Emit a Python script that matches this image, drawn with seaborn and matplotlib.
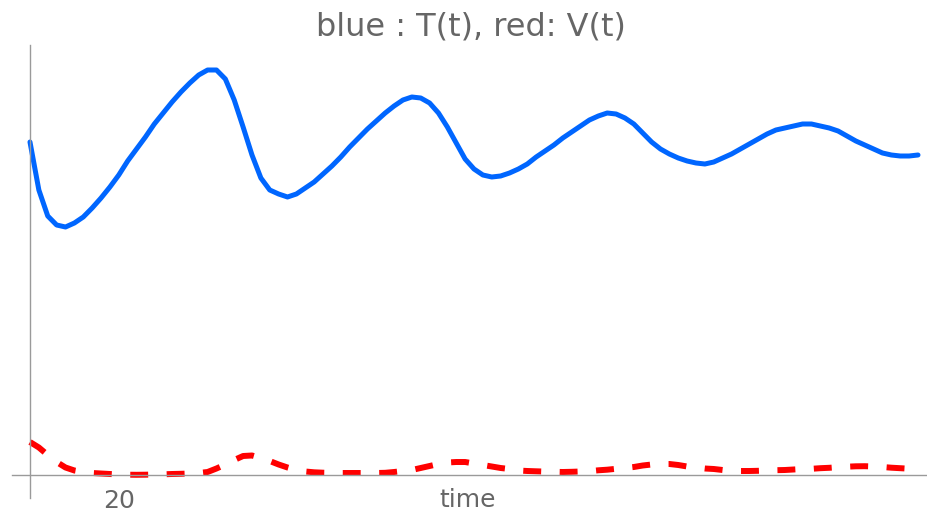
import numpy as np
import pandas as pd
import seaborn as sns
import matplotlib.pyplot as plt

# time grid (every 2 units) and values
time = list(range(0, 201, 2))

T_vals = [333, 285, 259, 250, 248, 252, 258, 267, 277, 288,
          300, 314, 326, 338, 351, 362, 373, 383, 392, 400,
          405, 405, 396, 375, 348, 320, 297, 285, 281, 278,
          281, 287, 293, 301, 309, 318, 328, 337, 346, 354,
          362, 369, 375, 378, 377, 372, 362, 348, 332, 316,
          306, 300, 298, 299, 302, 306, 311, 318, 324, 330,
          337, 343, 349, 355, 359, 362, 361, 357, 351, 342,
          333, 326, 321, 317, 314, 312, 311, 313, 317, 321,
          326, 331, 336, 341, 345, 347, 349, 351, 351, 349,
          347, 344, 339, 334, 330, 326, 322, 320, 319, 319,
          320]

V_vals = [33, 27.5, 20, 13, 7.5, 4.5, 3, 2, 1.5, 1,
          0.5, 0.3, 0.2, 0.3, 0.5, 0.7, 1, 1.2, 1.5, 2,
          3, 6.5, 10.5, 15, 19, 19.5, 17, 14, 10.5, 7.5,
          5, 3.5, 2.7, 2.3, 2.1, 2, 2, 2, 2, 2,
          2.2, 3, 4, 5, 7, 9, 11, 12.5, 13, 13,
          11.5, 10, 8.5, 7, 6, 4.5, 4, 3.7, 3.4, 3.2,
          3, 3.2, 3.5, 3.8, 4.7, 5.3, 6.2, 7, 8, 9.5,
          10.5, 11, 11, 10, 8.5, 7.5, 6.5, 6, 5, 4.5,
          4, 4, 4.2, 4.5, 4.8, 5, 5.5, 6, 6.2, 6.8,
          7.2, 7.8, 8.3, 8.7, 8.8, 8.5, 8, 7.3, 6.8, 6.3,
          6]

df = pd.DataFrame({"time": time, "T": T_vals, "V": V_vals})

sns.set_style("white")
plt.rcParams["font.family"] = ["DejaVu Sans"]

fig = plt.figure(figsize=(9.28, 5.13), dpi=100)
ax = fig.add_axes([12 / 928, 15 / 513, 916 / 928, 453 / 513])

sns.lineplot(data=df, x="time", y="T", color="#0066ff", linewidth=3.6,
             solid_joinstyle="round", ax=ax)
sns.lineplot(data=df, x="time", y="V", color="#ff0000", linewidth=4.3,
             linestyle="--", ax=ax)
ax.lines[-1].set_dashes((3, 3.1))

ax.set_xlim(-4.05, 202.25)
ax.set_ylim(-23, 430)

# Mathematica style axes crossing at origin
ax.spines["left"].set_position(("data", 0))
ax.spines["bottom"].set_position(("data", 0))
ax.spines["top"].set_visible(False)
ax.spines["right"].set_visible(False)
for s in ["left", "bottom"]:
    ax.spines[s].set_color("#9a9a9a")
    ax.spines[s].set_linewidth(1.0)

ax.set_xticks([20, 100])
ax.set_xticklabels(["20", ""])
ax.set_yticks([])
ax.tick_params(axis="x", direction="in", length=4, width=1, color="#9a9a9a",
               labelsize=18, labelcolor="#666666", pad=10)
ax.set_xlabel("")
ax.set_ylabel("")

ax.text(98.6, -25, "time", ha="center", va="center", fontsize=18, color="#666666")
fig.text(471 / 928, 1 - 27 / 513, "blue : T(t), red: V(t)", ha="center", va="center",
         fontsize=23, color="#666666")

fig.savefig("out.png", dpi=100)
